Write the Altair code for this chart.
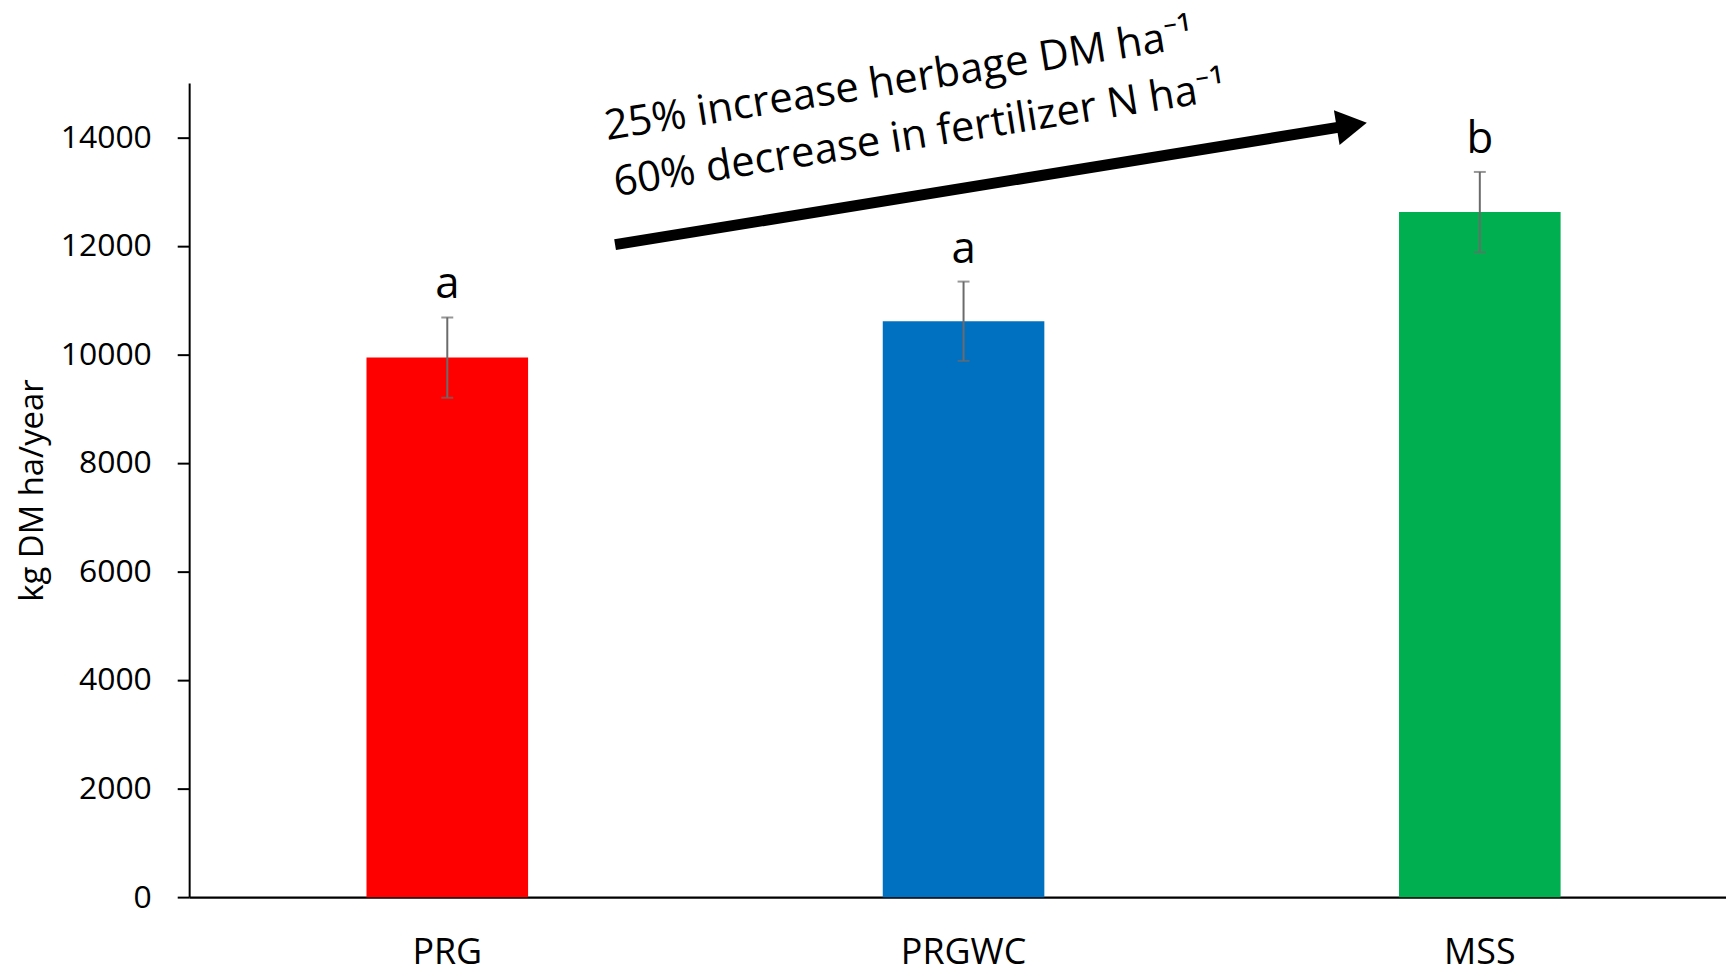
import altair as alt
import pandas as pd

# ---- data ----
categories = ["PRG", "PRGWC", "MSS"]
yields = [9940, 10610, 12620]
errors = [740, 730, 740]
letters = ["a", "a", "b"]
colors = ["#FF0000", "#0070C0", "#00B050"]

annotation_lines = ["25% increase herbage DM ha\u207b\u00b9", "60% decrease in fertilizer N ha\u207b\u00b9"]
annotation_x = [1.375, 1.415]      # in category units (0..3)
annotation_y = [15040, 14040]
arrow_x = [0.825, 2.252]
arrow_y = [12020, 14222]

y_ticks = [0, 2000, 4000, 6000, 8000, 10000, 12000, 14000]

df = pd.DataFrame({"cat": categories, "val": yields, "err": errors, "letter": letters})
df["lo"] = df["val"] - df["err"]
df["hi"] = df["val"] + df["err"]

ann = pd.DataFrame({"t": annotation_lines, "ax": annotation_x, "ay": annotation_y})
arr = pd.DataFrame({"x": [arrow_x[0]], "y": [arrow_y[0]], "x2": [arrow_x[1]], "y2": [arrow_y[1]]})

FONT = "Open Sans"
W = 1544
RANGE = 1556
H = 818
ERR_COLOR = "#6b6b6b"

yscale = alt.Scale(domain=[0, 15000], nice=False, zero=True)
yaxis = alt.Axis(
    title="kg DM ha/year", values=y_ticks, grid=False, format="d",
    tickSize=12, tickColor="black", tickWidth=2,
    domainColor="black", domainWidth=2,
    labelFont=FONT, labelFontSize=32, labelColor="black", labelPadding=26,
    titleFont=FONT, titleFontSize=33, titleFontWeight="normal", titleColor="black",
    titlePadding=11,
)
xscale = alt.Scale(range=[0, RANGE], paddingInner=0.687, paddingOuter=0.3435)
xaxis = alt.Axis(
    title=None, labelAngle=0, labelFont=FONT, labelFontSize=36, labelColor="black",
    ticks=False, domainColor="black", domainWidth=2.5, labelPadding=39, grid=False,
)


def X():
    return alt.X("cat:N", sort=categories, scale=xscale, axis=xaxis)


def Y(field):
    return alt.Y(field, scale=yscale, axis=yaxis, title="kg DM ha/year")


base = alt.Chart(df)

bars = base.mark_bar().encode(
    x=X(),
    y=Y("val:Q"),
    color=alt.Color("cat:N", scale=alt.Scale(domain=categories, range=colors), legend=None),
)
err_rule = base.mark_rule(color=ERR_COLOR, strokeWidth=2).encode(
    x=X(), y=Y("lo:Q"), y2="hi:Q"
)
cap_hi = base.mark_tick(color=ERR_COLOR, thickness=2, size=12, orient="horizontal").encode(
    x=X(), y=Y("hi:Q")
)
cap_lo = base.mark_tick(color=ERR_COLOR, thickness=2, size=12, orient="horizontal").encode(
    x=X(), y=Y("lo:Q")
)
letter_text = base.mark_text(font=FONT, fontSize=44, color="black", baseline="alphabetic", dy=-19).encode(
    x=X(), y=Y("hi:Q"), text="letter:N"
)

band_layer = alt.layer(bars, err_rule, cap_hi, cap_lo, letter_text)

qscale = alt.Scale(domain=[0, 3], range=[0, RANGE], nice=False, zero=False)

arrow_shaft = alt.Chart(arr).mark_rule(color="black", strokeWidth=11, strokeCap="butt").encode(
    x=alt.X("x:Q", scale=qscale, axis=None), x2="x2:Q",
    y=Y("y:Q"), y2="y2:Q",
)
arrow_head = alt.Chart(arr).mark_point(
    shape="triangle-right", size=1250, angle=350.8, filled=True, color="black", opacity=1, strokeWidth=0
).encode(
    x=alt.X("x2:Q", scale=qscale, axis=None),
    y=Y("y2:Q"),
)
ann_text = alt.Chart(ann).mark_text(
    font=FONT, fontSize=42, color="black", angle=351, align="center", baseline="middle"
).encode(
    x=alt.X("ax:Q", scale=qscale, axis=None),
    y=Y("ay:Q"),
    text="t:N",
)

annot_layer = alt.layer(arrow_shaft, arrow_head, ann_text)

chart = alt.layer(band_layer, annot_layer).resolve_scale(x="independent").properties(
    width=W, height=H,
    padding={"left": 182, "top": 73, "right": 0, "bottom": 82},
    autosize=alt.AutoSizeParams(type="none"),
    background="white",
).configure_view(stroke=None)

chart.save("out.html", embed_options={"renderer": "svg", "actions": False})
